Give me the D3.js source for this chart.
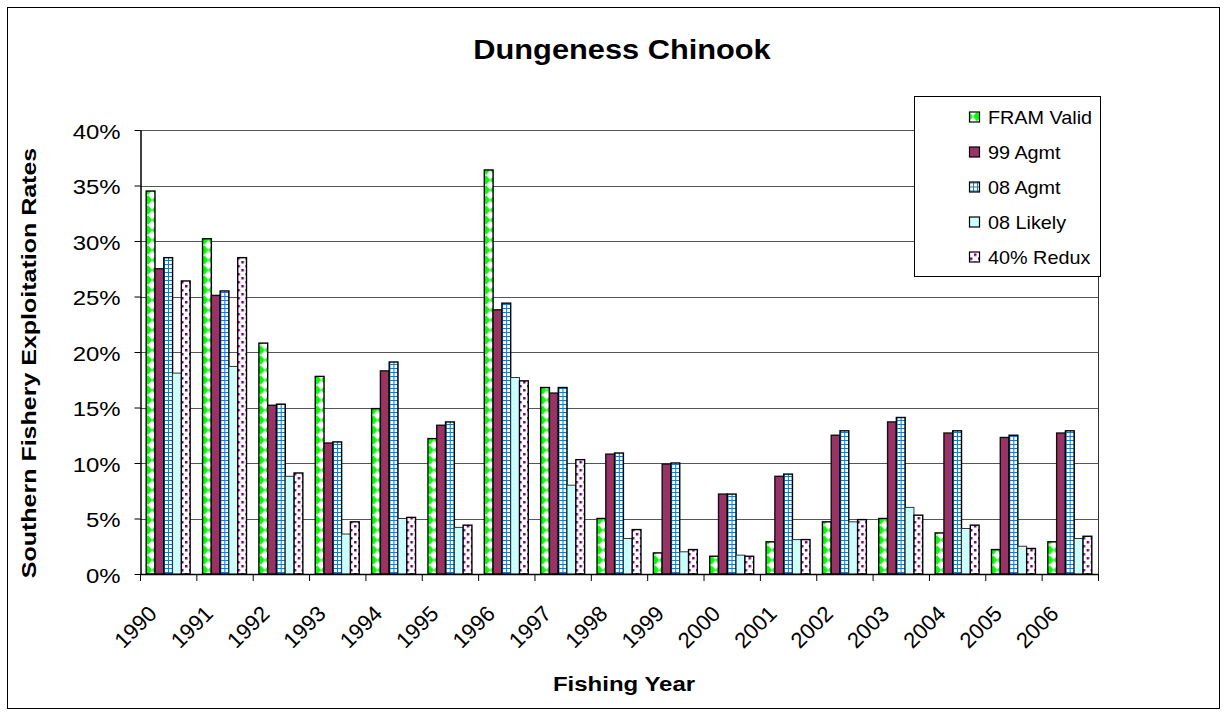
<!DOCTYPE html>
<html><head><meta charset="utf-8">
<script src="https://cdn.jsdelivr.net/npm/d3@7"></script>
<style>
html,body{margin:0;padding:0;background:#fff;}
text{font-family:"Liberation Sans",Arial,sans-serif;fill:#000;}
</style></head>
<body><svg id="c" width="1228" height="717"></svg>
<script>
const years = ["1990","1991","1992","1993","1994","1995","1996","1997","1998","1999","2000","2001","2002","2003","2004","2005","2006"];
const seriesNames = ["FRAM Valid","99 Agmt","08 Agmt","08 Likely","40% Redux"];
const framValid = [34.5,30.2,20.8,17.8,14.9,12.2,36.4,16.8,5.0,1.9,1.6,2.9,4.7,5.0,3.7,2.2,2.9];
const agmt99    = [27.5,25.1,15.2,11.8,18.3,13.4,23.8,16.3,10.8,9.9,7.2,8.8,12.5,13.7,12.7,12.3,12.7];
const agmt08    = [28.5,25.5,15.3,11.9,19.1,13.7,24.4,16.8,10.9,10.0,7.2,9.0,12.9,14.1,12.9,12.5,12.9];
const likely08  = [18.1,18.7,8.8,3.6,5.0,4.2,17.7,8.0,3.2,2.0,1.7,3.1,4.7,6.0,4.1,2.5,3.2];
const redux40   = [26.4,28.5,9.1,4.7,5.1,4.4,17.4,10.3,4.0,2.2,1.6,3.1,4.9,5.3,4.4,2.3,3.4];
const yTicks = [0,5,10,15,20,25,30,35,40];
const yTickLabels = ["0%","5%","10%","15%","20%","25%","30%","35%","40%"];
const seriesValues = [framValid, agmt99, agmt08, likely08, redux40];

const svg = d3.select("#c");
const L = 140, R = 1098, T = 130, B = 574;

// patterns
const defs = svg.append("defs");
const pf = defs.append("pattern").attr("id","pFram").attr("patternUnits","userSpaceOnUse").attr("width",8).attr("height",10);
pf.append("rect").attr("width",8).attr("height",10).attr("fill","#00FF00");
pf.append("polygon").attr("points","4,0 8,5 4,10 0,5").attr("fill","#fff");
const pa = defs.append("pattern").attr("id","pAg08").attr("patternUnits","userSpaceOnUse").attr("width",4).attr("height",4);
pa.append("rect").attr("width",4).attr("height",4).attr("fill","#FFFFCC");
pa.append("path").attr("d","M0,0.5H4M0.5,0V4").attr("stroke","#1C74D4").attr("stroke-width",1);
const pr = defs.append("pattern").attr("id","pRedux").attr("patternUnits","userSpaceOnUse").attr("width",8).attr("height",8);
pr.append("rect").attr("width",8).attr("height",8).attr("fill","#fff");
pr.append("rect").attr("x",1).attr("y",1).attr("width",2.5).attr("height",2.5).attr("fill","#770077");
pr.append("rect").attr("x",5).attr("y",5).attr("width",2.5).attr("height",2.5).attr("fill","#770077");
const fills = ["url(#pFram)","#993366","url(#pAg08)","#CCFFFF","url(#pRedux)"];
const strokes = ["#000","#111","#000","#333","#000"];

// outer border
svg.append("rect").attr("x",7.5).attr("y",7.5).attr("width",1212).attr("height",701)
  .attr("fill","#fff").attr("stroke","#000").attr("stroke-width",1);

const x0 = d3.scaleBand().domain(years).range([L,R]).padding(0);
const x1 = d3.scaleBand().domain(seriesNames).range([6.2, x0.step()-6.2]).padding(0);
const y = d3.scaleLinear().domain([0,40]).range([B,T]);

// gridlines
svg.append("g").selectAll("line").data(yTicks.slice(1)).join("line")
  .attr("x1",L).attr("x2",R).attr("y1",d=>Math.round(y(d))+0.5).attr("y2",d=>Math.round(y(d))+0.5)
  .attr("stroke","#555").attr("stroke-width",1);
// plot right border
svg.append("line").attr("x1",R+0.5).attr("x2",R+0.5).attr("y1",T).attr("y2",B).attr("stroke","#333");

// bars
const groups = svg.append("g").selectAll("g").data(years).join("g")
  .attr("transform",d=>`translate(${x0(d)},0)`);
groups.selectAll("rect").data((d,i)=>seriesNames.map((s,j)=>({s,j,v:seriesValues[j][i]}))).join("rect")
  .attr("x",d=>x1(d.s)).attr("width",x1.bandwidth())
  .attr("y",d=>y(d.v)).attr("height",d=>y(0)-y(d.v))
  .attr("fill",d=>fills[d.j]).attr("stroke",d=>strokes[d.j]).attr("stroke-width",d=>d.j===3?1:1.4);

// y axis
const yAxis = svg.append("g").attr("transform",`translate(${L+0.5},0)`)
  .call(d3.axisLeft(y).tickValues(yTicks).tickFormat((d,i)=>yTickLabels[i]).tickSize(6).tickSizeOuter(0));
yAxis.select(".domain").attr("stroke","#000").attr("stroke-width",1.5);
yAxis.selectAll(".tick line").attr("stroke","#000");
yAxis.selectAll(".tick text").attr("x",-17.5).attr("dy",null).attr("y",8)
  .attr("transform","scale(1.14,1)").style("font-size","21px").style("font-family","Liberation Sans, Arial, sans-serif");

// x axis
const xg = svg.append("g");
xg.append("line").attr("x1",L).attr("x2",R).attr("y1",B+0.5).attr("y2",B+0.5).attr("stroke","#000").attr("stroke-width",1.5);
const bounds = years.map(d=>x0(d)).concat([R]);
xg.selectAll("line.t").data(bounds).join("line").attr("class","t")
  .attr("x1",d=>d+0.5).attr("x2",d=>d+0.5).attr("y1",B).attr("y2",B+7).attr("stroke","#000");
xg.selectAll("text").data(years).join("text")
  .attr("transform",d=>`translate(${x0(d)+x0.bandwidth()/2-10},615) rotate(-45)`)
  .attr("text-anchor","end").style("font-size","22px").text(d=>d);

// title
svg.append("text").attr("transform","translate(622,59) scale(1.14,1)").attr("text-anchor","middle")
  .style("font-size","27px").style("font-weight","bold").text("Dungeness Chinook");
// axis titles
svg.append("text").attr("transform","translate(624,691) scale(1.2,1)").attr("text-anchor","middle")
  .style("font-size","20px").style("font-weight","bold").text("Fishing Year");
svg.append("text").attr("transform","translate(36,363) rotate(-90) scale(1.25,1)").attr("text-anchor","middle")
  .style("font-size","20px").style("font-weight","bold").text("Southern Fishery Exploitation Rates");

// legend
const lg = svg.append("g");
lg.append("rect").attr("x",914.5).attr("y",96.5).attr("width",186).attr("height",180)
  .attr("fill","#fff").attr("stroke","#000").attr("stroke-width",1);
const items = lg.selectAll("g").data(seriesNames).join("g")
  .attr("transform",(d,i)=>`translate(969,${116.5+35*i})`);
items.append("rect").attr("x",0.5).attr("y",-4.5).attr("width",10).attr("height",10)
  .attr("fill",(d,i)=>fills[i]).attr("stroke","#000").attr("stroke-width",1.2);
items.append("text").attr("transform","translate(19,7) scale(1.1,1)").style("font-size","18px").text(d=>d);
</script></body></html>
